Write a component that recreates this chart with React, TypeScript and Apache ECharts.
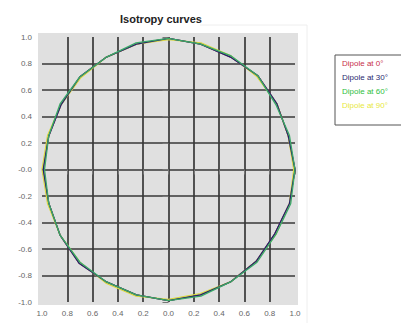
import React, { useEffect, useRef } from "react";
import * as echarts from "echarts";

const angles = [0, 15, 30, 45, 60, 75, 90, 105, 120, 135, 150, 165, 180, 195, 210, 225, 240, 255, 270, 285, 300, 315, 330, 345];
const seriesNames = ["Dipole at 0°", "Dipole at 30°", "Dipole at 60°", "Dipole at 90°"];
const lineColors = ["#b03040", "#22226e", "#3aa868", "#d8d840"];
const legendColors = ["#c8304a", "#2a2a70", "#30c040", "#e8e840"];
const radii0 = [1.0, 0.98, 0.99, 1.0, 0.98, 0.98, 0.99, 0.98, 0.98, 0.99, 0.98, 0.98, 0.99, 0.98, 0.99, 1.0, 0.98, 0.98, 0.99, 0.98, 0.98, 0.98, 0.97, 0.99];
const radii30 = [1.0, 0.98, 0.99, 1.0, 0.98, 0.98, 0.99, 0.98, 0.98, 0.99, 0.98, 0.98, 0.99, 0.98, 0.99, 1.0, 0.98, 0.98, 0.99, 0.98, 0.98, 0.98, 0.97, 0.99];
const radii60 = [1.0, 0.99, 0.98, 1.0, 0.99, 0.98, 0.99, 0.99, 0.98, 0.99, 0.99, 0.98, 0.98, 0.98, 0.99, 0.99, 0.98, 0.98, 0.99, 0.99, 0.98, 0.99, 0.98, 1.0];
const radii90 = [0.99, 0.98, 0.99, 0.99, 0.99, 0.99, 0.98, 0.98, 0.98, 0.98, 0.98, 0.99, 1.0, 0.99, 0.99, 0.99, 0.99, 0.99, 0.98, 0.97, 0.98, 0.98, 0.98, 0.99];
const xTickLabels = ["1.0", "0.8", "0.6", "0.4", "0.2", "0.0", "0.2", "0.4", "0.6", "0.8", "1.0"];
const yTickLabels = ["-1.0", "-0.8", "-0.6", "-0.4", "-0.2", "-0.0", "0.2", "0.4", "0.6", "0.8", "1.0"];

function toXY(radii: number[]) {
  const pts = radii.map((r, i) => {
    const a = (angles[i] * Math.PI) / 180;
    return [r * Math.cos(a), r * Math.sin(a)];
  });
  pts.push(pts[0]);
  return pts;
}

export default function App() {
  const ref = useRef<HTMLDivElement>(null);
  useEffect(() => {
    const chart = echarts.init(ref.current!, null, { renderer: "svg" });
    const all = [radii0, radii90, radii30, radii60];
    const idx = [0, 3, 1, 2];
    const labelIdx = (v: number, arr: string[]) => arr[Math.round((v + 1) / 0.2)] ?? "";
    chart.setOption({
      animation: false,
      backgroundColor: "#ffffff",
      title: {
        text: "Isotropy curves",
        left: 156,
        textAlign: "center",
        top: 8,
        textStyle: { fontSize: 11, fontWeight: "bold", color: "#222", fontFamily: "Liberation Sans, Arial, sans-serif" },
      },
      graphic: [
        { type: "rect", z: -10, shape: { x: 38, y: 33, width: 260, height: 272 }, style: { fill: "#e0e0e0" } },
        { type: "line", z: -10, shape: { x1: 200, y1: 25, x2: 307, y2: 25 }, style: { stroke: "#eeeeee", lineWidth: 1 } },
        { type: "line", z: -10, shape: { x1: 307, y1: 25, x2: 307, y2: 323 }, style: { stroke: "#eeeeee", lineWidth: 1 } },
      ],
      legend: {
        orient: "vertical",
        left: 335,
        top: 55,
        itemWidth: 0,
        itemHeight: 0,
        itemGap: 6,
        padding: [4, 25, 16, 2],
        borderColor: "#555",
        borderWidth: 1,
        icon: "none",
        textStyle: { fontSize: 8, fontFamily: "Liberation Sans, Arial, sans-serif" },
        data: seriesNames.map((n, i) => ({ name: n, textStyle: { color: legendColors[i] } })),
      },
      grid: { left: 42, right: 106, top: 37, bottom: 23 },
      xAxis: {
        type: "value",
        min: -1,
        max: 1,
        interval: 0.2,
        axisLine: { show: false },
        axisTick: { show: true, length: 5, lineStyle: { color: "#777" } },
        axisLabel: {
          fontSize: 8,
          color: "#666",
          margin: 7,
          fontFamily: "Liberation Sans, Arial, sans-serif",
          formatter: (v: number) => labelIdx(v, xTickLabels),
        },
        splitLine: { show: true, showMinLine: false, showMaxLine: false, lineStyle: { color: "#383838", width: 1.7 } },
      },
      yAxis: {
        type: "value",
        min: -1,
        max: 1,
        interval: 0.2,
        axisLine: { show: false },
        axisTick: { show: true, length: 6, lineStyle: { color: "#777" } },
        axisLabel: {
          fontSize: 8,
          color: "#666",
          margin: 10,
          fontFamily: "Liberation Sans, Arial, sans-serif",
          formatter: (v: number) => labelIdx(v, yTickLabels),
        },
        splitLine: { show: true, showMinLine: false, showMaxLine: false, lineStyle: { color: "#383838", width: 1.7 } },
      },
      series: idx.map((k, j) => ({
        name: seriesNames[k],
        type: "line",
        showSymbol: false,
        symbol: "none",
        data: toXY(all[j]),
        lineStyle: { color: lineColors[k], width: 1.3 },
        itemStyle: { color: legendColors[k] },
      })),
    });
    return () => chart.dispose();
  }, []);
  return <div ref={ref} style={{ width: 401, height: 325, position: "absolute", left: 0, top: 0 }} />;
}
